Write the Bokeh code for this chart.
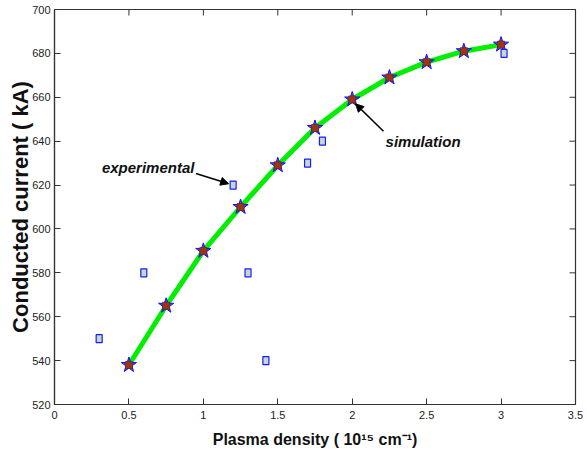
import math
from bokeh.plotting import figure
from bokeh.models import Range1d, LinearAxis, FixedTicker, Label, Arrow, NormalHead
from bokeh.embed import file_html
from bokeh.resources import INLINE

# ---- data ----
sim_density = [0.5, 0.75, 1.0, 1.25, 1.5, 1.75, 2.0, 2.25, 2.5, 2.75, 3.0]
sim_current = [538, 565, 590, 610, 629, 646, 659, 669, 676, 681, 684]
exp_density = [0.3, 0.6, 1.2, 1.3, 1.42, 1.7, 1.8, 3.02]
exp_current = [550, 580, 620, 580, 540, 630, 640, 680]
x_ticks = [0, 0.5, 1, 1.5, 2, 2.5, 3, 3.5]
y_ticks = [520, 540, 560, 580, 600, 620, 640, 660, 680, 700]
x_title = "Plasma density ( 10\u00b9\u2075 cm\u207b\u00b9)"
y_title = "Conducted current ( kA)"

SANS = "Liberation Sans"

p = figure(width=587, height=456, output_backend="svg", toolbar_location=None,
           x_range=Range1d(0, 3.5), y_range=Range1d(520, 700),
           min_border_left=54, min_border_right=12, min_border_top=9,
           min_border_bottom=52, x_axis_location=None, y_axis_location=None)
p.grid.visible = False
p.outline_line_color = "#333333"
p.outline_line_width = 1.2
p.background_fill_color = "white"
p.border_fill_color = "white"


def style_axis(ax, standoff):
    ax.axis_line_color = "#333333"
    ax.axis_line_width = 1.2
    ax.major_tick_in = 6
    ax.major_tick_out = 0
    ax.minor_tick_line_color = None
    ax.major_tick_line_color = "#333333"
    ax.major_label_text_font = SANS
    ax.major_label_text_font_size = "11px"
    ax.major_label_text_color = "#222222"
    ax.major_label_standoff = standoff
    ax.axis_label_text_font = SANS
    ax.axis_label_text_font_style = "bold"
    ax.axis_label_text_color = "#111111"


xb = LinearAxis(ticker=FixedTicker(ticks=x_ticks), axis_label=x_title)
xb.major_label_overrides = {t: ("%g" % t) for t in x_ticks}
style_axis(xb, 6)
xb.axis_label_text_font_size = "16px"
xb.axis_label_standoff = 9
p.add_layout(xb, "below")

yl = LinearAxis(ticker=FixedTicker(ticks=y_ticks), axis_label=y_title)
style_axis(yl, 4)
yl.axis_label_text_font_size = "22px"
yl.axis_label_standoff = -4
p.add_layout(yl, "left")

# top / right inward ticks (half of a dash marker is clipped by the frame)
p.scatter(x_ticks, [y_ticks[-1]] * len(x_ticks), marker="dash", angle=math.pi / 2,
          size=12, line_color="#333333", line_width=1)
p.scatter([x_ticks[-1]] * len(y_ticks), y_ticks, marker="dash", angle=0,
          size=12, line_color="#333333", line_width=1)

# simulation curve
p.line(sim_density, sim_current, line_color="#00ee00", line_width=5)
p.scatter(sim_density, sim_current, marker="star", size=16,
          fill_color="#3a3aff", fill_alpha=0.9, line_color="#1010ff", line_width=1)
p.scatter(sim_density, sim_current, marker="square", size=7,
          fill_color="#9a3518", line_color="#7a2510", line_width=0.8)

# experimental points
p.rect(exp_density, exp_current, width=6, height=8, width_units="screen",
       height_units="screen", fill_color="#c4d8cc", line_color="#1a1aff", line_width=1.2)

# annotations
p.add_layout(Label(x=0.94, y=628.0, text="experimental", text_font=SANS,
                   text_font_style="bold italic", text_font_size="15px",
                   text_align="right", text_baseline="middle", text_color="#111111"))
p.add_layout(Arrow(x_start=0.95, y_start=625.3, x_end=exp_density[2] - 0.03,
                   y_end=exp_current[2] + 0.6, line_width=1.5, line_color="black",
                   end=NormalHead(size=8, fill_color="black", line_color="black")))
p.add_layout(Label(x=2.224, y=639.8, text="simulation", text_font=SANS,
                   text_font_style="bold italic", text_font_size="15px",
                   text_align="left", text_baseline="middle", text_color="#111111"))
p.add_layout(Arrow(x_start=2.21, y_start=644.5, x_end=sim_density[6] + 0.022,
                   y_end=sim_current[6] - 2.0, line_width=1.5, line_color="black",
                   end=NormalHead(size=8, fill_color="black", line_color="black")))

open("out.html", "w").write(file_html(p, INLINE))
